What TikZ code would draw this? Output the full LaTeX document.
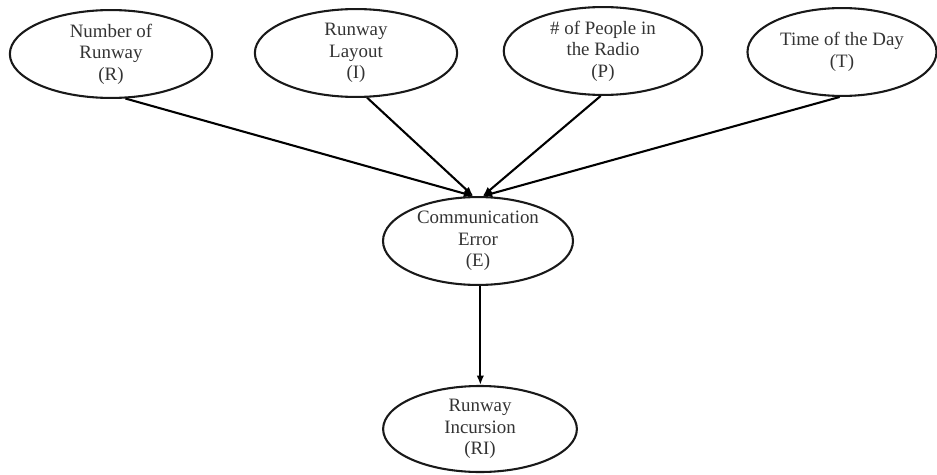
\documentclass[tikz,border=0pt]{standalone}
\usepackage{fontspec}
\setmainfont{Liberation Serif}
\usetikzlibrary{shapes.geometric,arrows.meta}

\begin{document}
\begin{tikzpicture}[x=0.529pt,y=-0.529pt,line width=1.1pt,
  var/.style={draw=black!90,ellipse,align=center,text=black!80,font=\fontsize{10}{11.3}\selectfont,
    minimum width=107pt,minimum height=46.5pt,inner sep=0pt},
  >={Latex[length=5pt,width=4pt]}]
\useasboundingbox (0,0) rectangle (937,475);

\node [var] (R) at (111,54) {Number of\\Runway\\(R)};
\node [var] (I) at (356,53) {Runway\\Layout\\(I)};
\node [var,minimum width=105pt] (P) at (603,51) {\# of People in\\the Radio\\(P)};
\node [var,minimum width=100pt] (T) at (842,52) {Time of the Day\\(T)};
\node [var,minimum width=100.5pt] (E) at (478,241) {Communication\\Error\\(E)};
\node [var,minimum width=102.5pt,minimum height=45.5pt] (RI) at (480,429) {Runway\\Incursion\\(RI)};

\draw[->] (R.-72)  --  (E.96);
\draw[->] (I.-76)  --  (E.96);
\draw[->] (P.-93)  --  (E.84);
\draw[->] (T.-93)  --  (E.84);
\draw[->] (E.-87)  --  (RI.north -| E.-87);

\end{tikzpicture}
\end{document}
